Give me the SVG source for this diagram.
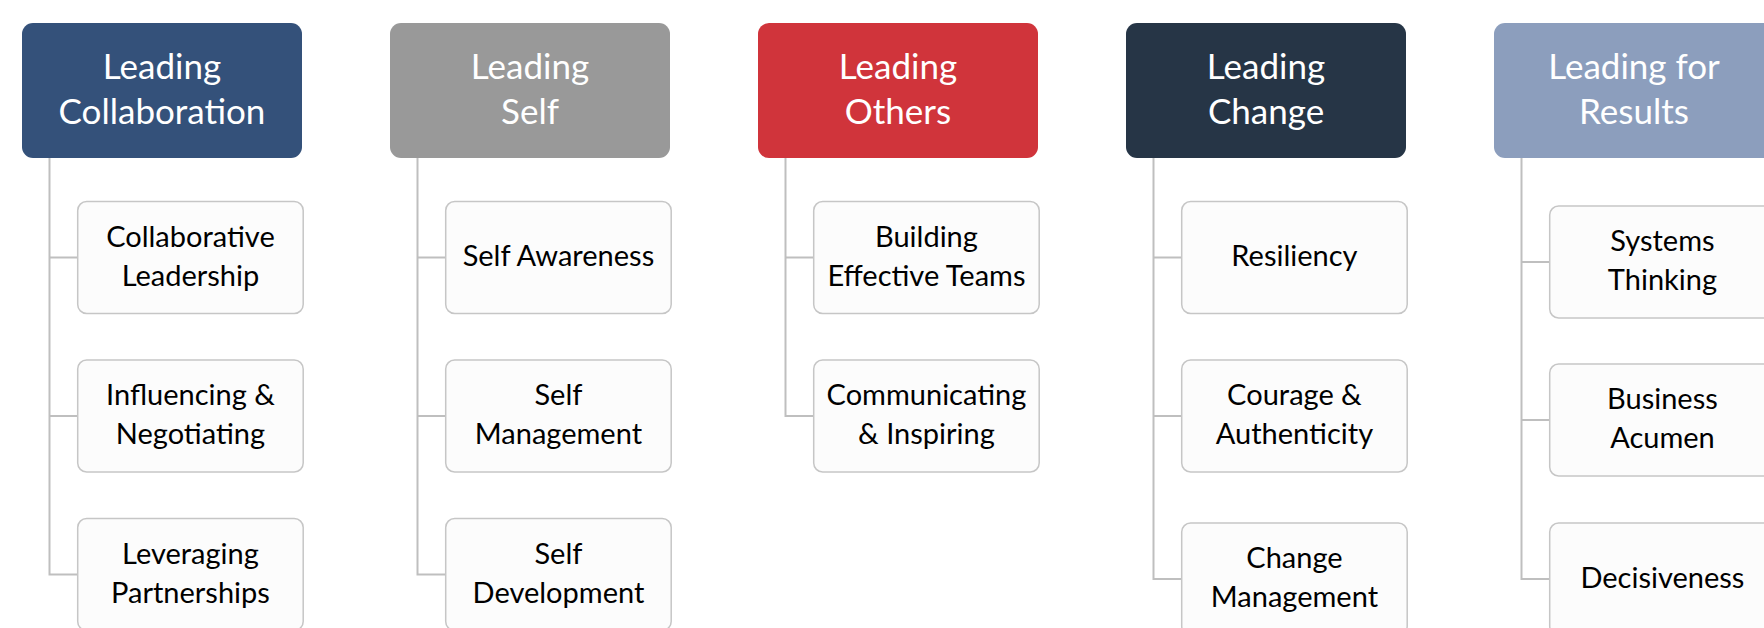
<svg xmlns="http://www.w3.org/2000/svg" width="1764" height="628" viewBox="0 0 1764 628">
  <style>
    .hdr { stroke: none; }
    .item { fill: #fcfcfc; stroke: #c6c6c6; stroke-width: 1.5; }
    .link { fill: none; stroke: #bfbfbf; stroke-width: 2; }
    .ht { font-family: Lato, "Liberation Sans", sans-serif; font-size: 35px; fill: #ffffff; text-anchor: middle; }
    .it { font-family: Lato, "Liberation Sans", sans-serif; font-size: 29px; fill: #000000; text-anchor: middle; }
  </style>
  <rect width="1764" height="628" fill="#ffffff"/>

  <!-- tree connectors: trunk from each header down, stubs to each item -->
  <g id="connectors">
    <path class="link" d="M49.5 158 V574.5 H77.7 M49.5 257.5 H77.7 M49.5 416 H77.7"/>
    <path class="link" d="M417.5 158 V574.5 H445.7 M417.5 257.5 H445.7 M417.5 416 H445.7"/>
    <path class="link" d="M785.5 158 V416 H813.7 M785.5 257.5 H813.7"/>
    <path class="link" d="M1153.5 158 V579 H1181.7 M1153.5 257.5 H1181.7 M1153.5 416 H1181.7"/>
    <path class="link" d="M1521.5 158 V579 H1549.7 M1521.5 262 H1549.7 M1521.5 420 H1549.7"/>
  </g>

  <!-- column 1 -->
  <g id="leading-collaboration">
    <rect class="hdr" x="22" y="23" width="280" height="135" rx="11" fill="#34517a"/>
    <text class="ht" x="162" y="78.5">Leading</text>
    <text class="ht" x="162" y="123.5">Collaboration</text>
  </g>
  <g id="collaborative-leadership">
    <rect class="item" x="77.7" y="201.5" width="225.5" height="112" rx="9"/>
    <text class="it" x="190.45" y="246.5">Collaborative</text>
    <text class="it" x="190.45" y="285.5">Leadership</text>
  </g>
  <g id="influencing-negotiating">
    <rect class="item" x="77.7" y="360" width="225.5" height="112" rx="9"/>
    <text class="it" x="190.45" y="405">Influencing &amp;</text>
    <text class="it" x="190.45" y="444">Negotiating</text>
  </g>
  <g id="leveraging-partnerships">
    <rect class="item" x="77.7" y="518.5" width="225.5" height="112" rx="9"/>
    <text class="it" x="190.45" y="563.5">Leveraging</text>
    <text class="it" x="190.45" y="602.5">Partnerships</text>
  </g>

  <!-- column 2 -->
  <g id="leading-self">
    <rect class="hdr" x="390" y="23" width="280" height="135" rx="11" fill="#999999"/>
    <text class="ht" x="530" y="78.5">Leading</text>
    <text class="ht" x="530" y="123.5">Self</text>
  </g>
  <g id="self-awareness">
    <rect class="item" x="445.7" y="201.5" width="225.5" height="112" rx="9"/>
    <text class="it" x="558.45" y="266">Self Awareness</text>
  </g>
  <g id="self-management">
    <rect class="item" x="445.7" y="360" width="225.5" height="112" rx="9"/>
    <text class="it" x="558.45" y="405">Self</text>
    <text class="it" x="558.45" y="444">Management</text>
  </g>
  <g id="self-development">
    <rect class="item" x="445.7" y="518.5" width="225.5" height="112" rx="9"/>
    <text class="it" x="558.45" y="563.5">Self</text>
    <text class="it" x="558.45" y="602.5">Development</text>
  </g>

  <!-- column 3 -->
  <g id="leading-others">
    <rect class="hdr" x="758" y="23" width="280" height="135" rx="11" fill="#d0343b"/>
    <text class="ht" x="898" y="78.5">Leading</text>
    <text class="ht" x="898" y="123.5">Others</text>
  </g>
  <g id="building-effective-teams">
    <rect class="item" x="813.7" y="201.5" width="225.5" height="112" rx="9"/>
    <text class="it" x="926.45" y="246.5">Building</text>
    <text class="it" x="926.45" y="285.5">Effective Teams</text>
  </g>
  <g id="communicating-inspiring">
    <rect class="item" x="813.7" y="360" width="225.5" height="112" rx="9"/>
    <text class="it" x="926.45" y="405">Communicating</text>
    <text class="it" x="926.45" y="444">&amp; Inspiring</text>
  </g>

  <!-- column 4 -->
  <g id="leading-change">
    <rect class="hdr" x="1126" y="23" width="280" height="135" rx="11" fill="#263546"/>
    <text class="ht" x="1266" y="78.5">Leading</text>
    <text class="ht" x="1266" y="123.5">Change</text>
  </g>
  <g id="resiliency">
    <rect class="item" x="1181.7" y="201.5" width="225.5" height="112" rx="9"/>
    <text class="it" x="1294.45" y="266">Resiliency</text>
  </g>
  <g id="courage-authenticity">
    <rect class="item" x="1181.7" y="360" width="225.5" height="112" rx="9"/>
    <text class="it" x="1294.45" y="405">Courage &amp;</text>
    <text class="it" x="1294.45" y="444">Authenticity</text>
  </g>
  <g id="change-management">
    <rect class="item" x="1181.7" y="523" width="225.5" height="112" rx="9"/>
    <text class="it" x="1294.45" y="568">Change</text>
    <text class="it" x="1294.45" y="607">Management</text>
  </g>

  <!-- column 5 -->
  <g id="leading-for-results">
    <rect class="hdr" x="1494" y="23" width="280" height="135" rx="11" fill="#8c9ebd"/>
    <text class="ht" x="1634" y="78.5">Leading for</text>
    <text class="ht" x="1634" y="123.5">Results</text>
  </g>
  <g id="systems-thinking">
    <rect class="item" x="1549.7" y="206" width="225.5" height="112" rx="9"/>
    <text class="it" x="1662.45" y="251">Systems</text>
    <text class="it" x="1662.45" y="290">Thinking</text>
  </g>
  <g id="business-acumen">
    <rect class="item" x="1549.7" y="364" width="225.5" height="112" rx="9"/>
    <text class="it" x="1662.45" y="409">Business</text>
    <text class="it" x="1662.45" y="448">Acumen</text>
  </g>
  <g id="decisiveness">
    <rect class="item" x="1549.7" y="523" width="225.5" height="112" rx="9"/>
    <text class="it" x="1662.45" y="587.5">Decisiveness</text>
  </g>
</svg>
